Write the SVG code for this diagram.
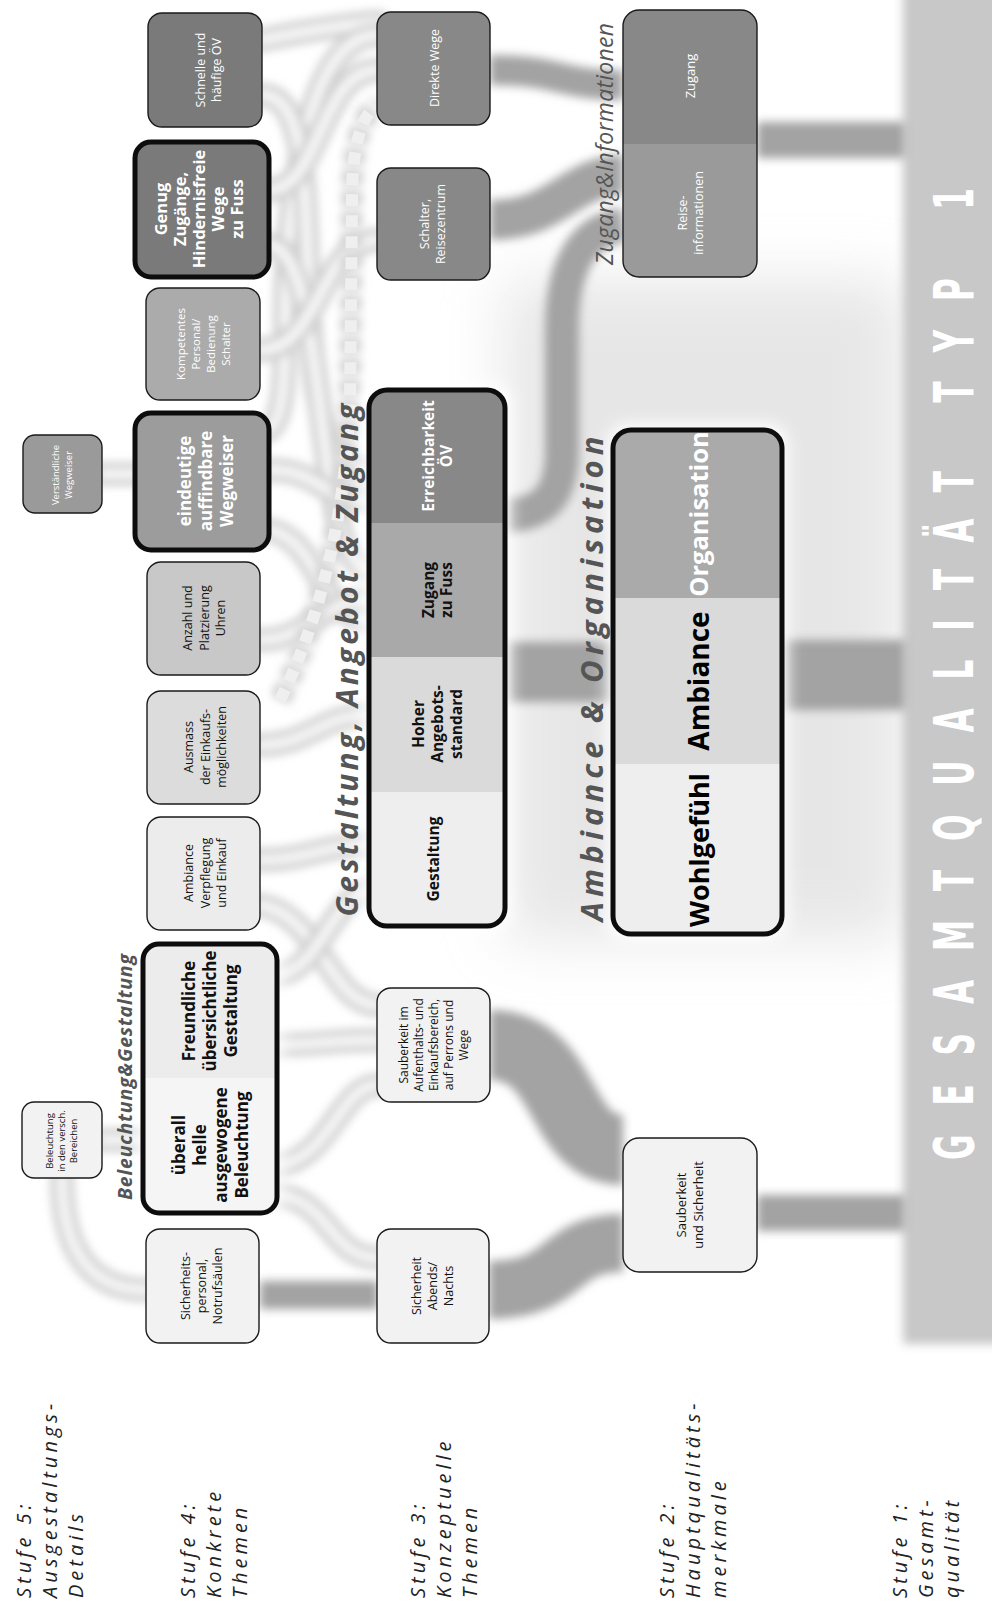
<svg xmlns="http://www.w3.org/2000/svg" width="992" height="1609" viewBox="0 0 992 1609">
<defs>
<style>
text{font-family:"Open Sans","Noto Sans","Liberation Sans",sans-serif;text-anchor:middle}
.node tspan{dominant-baseline:central}
.s12{font-size:12.5px;fill:#111}
.s9{font-size:9.5px;fill:#111}
.w12{font-size:12.5px;fill:#fff}
.w11{font-size:11.5px;fill:#fff}
.w9{font-size:9.5px;fill:#fff}
.b17{font-size:17px;font-weight:bold;fill:#111}
.wb17{font-size:17px;font-weight:bold;fill:#fff}
.b15{font-size:15.5px;font-weight:bold;fill:#111}
.wb15{font-size:15.5px;font-weight:bold;fill:#fff}
.box{stroke:#1a1a1a;stroke-width:1.4}
.thick{fill:none;stroke:#0d0d0d;stroke-width:5}
.lbl{font-style:italic;font-weight:bold;fill:#555}
.stufe{font-style:italic;font-size:20px;fill:#222;letter-spacing:4px;text-anchor:start}
.lto{fill:none;stroke:#d0d0d0;stroke-width:24;stroke-linecap:round}
.lti{fill:none;stroke:#f8f8f8;stroke-width:10;stroke-linecap:round}
.dk{fill:none;stroke:#a3a3a3}
</style>
<filter id="b3" filterUnits="userSpaceOnUse" x="-50" y="-50" width="1100" height="1700"><feGaussianBlur stdDeviation="4"/></filter>
<filter id="b5" filterUnits="userSpaceOnUse" x="-50" y="-50" width="1100" height="1700"><feGaussianBlur stdDeviation="5"/></filter>
<filter id="b8" filterUnits="userSpaceOnUse" x="-50" y="-50" width="1100" height="1700"><feGaussianBlur stdDeviation="8"/></filter>
<filter id="b30" filterUnits="userSpaceOnUse" x="-100" y="-100" width="1200" height="1800"><feGaussianBlur stdDeviation="30"/></filter>
<clipPath id="cBel"><rect x="143" y="944" width="134" height="269" rx="16"/></clipPath>
<clipPath id="cGest"><rect x="369" y="390" width="136" height="536" rx="18"/></clipPath>
<clipPath id="cWohl"><rect x="613" y="430" width="169" height="504" rx="18"/></clipPath>
<clipPath id="cZug"><rect x="623" y="10" width="134" height="267" rx="16"/></clipPath>
</defs>
<rect width="992" height="1609" fill="#fff"/>

<g id="background">
<rect x="505" y="280" width="400" height="660" fill="#cfcfcf" opacity="0.5" filter="url(#b30)"/>
<rect x="903" y="-40" width="130" height="1384" fill="#c8c8c8" filter="url(#b5)"/>
</g>

<g id="connectors">
<g filter="url(#b3)">
<path class="lto" d="M262 40 C310 30 340 25 378 22"/>
<path class="lti" d="M262 40 C310 30 340 25 378 22"/>
<path class="lto" d="M378 35 C310 35 285 190 285 330 C285 400 280 420 269 430"/>
<path class="lti" d="M378 35 C310 35 285 190 285 330 C285 400 280 420 269 430"/>
<path class="lto" d="M262 95 C320 95 300 260 315 380 C325 450 345 470 369 470"/>
<path class="lti" d="M262 95 C320 95 300 260 315 380 C325 450 345 470 369 470"/>
<path class="lto" d="M269 190 C320 190 320 70 378 70"/>
<path class="lti" d="M269 190 C320 190 320 70 378 70"/>
<path class="lto" d="M269 245 C330 250 310 560 369 570"/>
<path class="lti" d="M269 245 C330 250 310 560 369 570"/>
<path class="lto" d="M260 350 C320 350 320 240 378 240"/>
<path class="lti" d="M260 350 C320 350 320 240 378 240"/>
<path class="lto" d="M269 470 C320 470 320 500 369 500"/>
<path class="lti" d="M269 470 C320 470 320 500 369 500"/>
<path class="lto" d="M269 530 C320 540 320 620 369 620"/>
<path class="lti" d="M269 530 C320 540 320 620 369 620"/>
<path class="lto" d="M260 640 C310 640 320 600 369 600"/>
<path class="lti" d="M260 640 C310 640 320 600 369 600"/>
<path class="lto" d="M260 745 C310 745 320 715 369 715"/>
<path class="lti" d="M260 745 C310 745 320 715 369 715"/>
<path class="lto" d="M260 860 C310 860 320 845 369 845"/>
<path class="lti" d="M260 860 C310 860 320 845 369 845"/>
<path class="lto" d="M260 905 C320 915 330 1005 378 1005"/>
<path class="lti" d="M260 905 C320 915 330 1005 378 1005"/>
<path class="lto" d="M277 975 C320 970 330 900 369 890"/>
<path class="lti" d="M277 975 C320 970 330 900 369 890"/>
<path class="lto" d="M277 1045 C320 1045 330 1040 378 1040"/>
<path class="lti" d="M277 1045 C320 1045 330 1040 378 1040"/>
<path class="lto" d="M277 1165 C330 1160 340 1085 378 1085"/>
<path class="lti" d="M277 1165 C330 1160 340 1085 378 1085"/>
<path class="lto" d="M277 1195 C330 1200 330 1258 378 1258"/>
<path class="lti" d="M277 1195 C330 1200 330 1258 378 1258"/>
<path class="lto" d="M103 1140 L144 1140"/>
<path class="lti" d="M103 1140 L144 1140"/>
<path class="lto" d="M62 1178 C62 1250 90 1290 147 1290"/>
<path class="lti" d="M62 1178 C62 1250 90 1290 147 1290"/>
<path class="lto" d="M103 474 L134 474"/>
<path class="lti" d="M103 474 L134 474"/>
</g>
<path d="M280 700 C320 620 345 520 350 400 L352 200 C352 150 360 115 378 105" fill="none" stroke="#d6d6d6" stroke-width="22" stroke-dasharray="16 5" filter="url(#b3)"/>
<path d="M280 700 C320 620 345 520 350 400 L352 200 C352 150 360 115 378 105" fill="none" stroke="#efefef" stroke-width="12" stroke-dasharray="12 9"/>
<g filter="url(#b5)">
<path class="dk" stroke-width="28" d="M260 1295 L378 1295"/>
<path class="dk" stroke-width="70" d="M490 1045 C570 1045 555 1150 623 1150"/>
<path class="dk" stroke-width="58" d="M489 1290 C570 1290 555 1243 623 1243"/>
<path class="dk" stroke-width="60" stroke="#9a9a9a" d="M505 672 L613 672"/>
<path class="dk" stroke-width="70" stroke="#9a9a9a" d="M782 675 L905 675"/>
<path class="dk" stroke-width="36" stroke="#9c9c9c" d="M757 1213 L905 1213"/>
<path class="dk" stroke-width="36" stroke="#9c9c9c" d="M757 140 L905 140"/>
<path class="dk" stroke-width="30" stroke="#aaaaaa" d="M490 70 C560 70 560 85 623 85"/>
<path class="dk" stroke-width="40" stroke="#aaaaaa" d="M490 220 C560 220 570 175 623 175"/>
<path class="dk" stroke-width="34" stroke="#aaaaaa" d="M623 225 C580 230 562 270 562 330 L562 450 C562 500 540 515 505 515"/>
</g>
</g>

<g id="glows" fill="#fff" filter="url(#b8)">
<rect x="138" y="938" width="144" height="281" rx="18"/>
<rect x="363" y="384" width="148" height="548" rx="20"/>
<rect x="607" y="424" width="181" height="516" rx="20"/>
</g>

<g id="n-beleuchtung-bereiche" class="node">
<rect class="box" x="22" y="1102" width="80" height="76" rx="12" fill="#f2f2f2"/>
<text class="s9" transform="translate(61,1141) rotate(-90)"><tspan x="0" y="-12">Beleuchtung</tspan><tspan x="0" y="0">in den versch.</tspan><tspan x="0" y="12">Bereichen</tspan></text>
</g>
<g id="n-verstaendliche-wegweiser" class="node">
<rect class="box" x="23" y="435" width="79" height="78" rx="12" fill="#9a9a9a"/>
<text class="w9" transform="translate(62,475) rotate(-90)"><tspan x="0" y="-7">Verständliche</tspan><tspan x="0" y="6">Wegweiser</tspan></text>
</g>

<g id="n-sicherheitspersonal" class="node">
<rect class="box" x="146" y="1229" width="113" height="114" rx="14" fill="#f2f2f2"/>
<text class="s12" transform="translate(201,1286) rotate(-90)"><tspan x="0" y="-16">Sicherheits-</tspan><tspan x="0" y="0">personal,</tspan><tspan x="0" y="16">Notrufsäulen</tspan></text>
</g>
<g id="n-beleuchtung-gestaltung" class="node">
<g clip-path="url(#cBel)"><rect x="143" y="944" width="134" height="134" fill="#ececec"/><rect x="143" y="1078" width="134" height="135" fill="#f5f5f5"/></g>
<rect class="thick" x="143" y="944" width="134" height="269" rx="16"/>
<text class="b17" transform="translate(209,1011) rotate(-90)"><tspan x="0" y="-21">Freundliche</tspan><tspan x="0" y="0">übersichtliche</tspan><tspan x="0" y="21">Gestaltung</tspan></text>
<text class="b17" transform="translate(209,1145) rotate(-90)"><tspan x="0" y="-31">überall</tspan><tspan x="0" y="-10">helle</tspan><tspan x="0" y="11">ausgewogene</tspan><tspan x="0" y="32">Beleuchtung</tspan></text>
</g>
<g id="n-ambiance-verpflegung" class="node">
<rect class="box" x="147" y="817" width="113" height="113" rx="14" fill="#ececec"/>
<text class="s12" transform="translate(205,873) rotate(-90)"><tspan x="0" y="-17">Ambiance</tspan><tspan x="0" y="0">Verpflegung</tspan><tspan x="0" y="16">und Einkauf</tspan></text>
</g>
<g id="n-ausmass" class="node">
<rect class="box" x="147" y="691" width="113" height="113" rx="14" fill="#dcdcdc"/>
<text class="s12" transform="translate(205,747) rotate(-90)"><tspan x="0" y="-17">Ausmass</tspan><tspan x="0" y="0">der Einkaufs-</tspan><tspan x="0" y="16">möglichkeiten</tspan></text>
</g>
<g id="n-uhren" class="node">
<rect class="box" x="147" y="562" width="113" height="113" rx="14" fill="#c8c8c8"/>
<text class="s12" transform="translate(204,618) rotate(-90)"><tspan x="0" y="-17">Anzahl und</tspan><tspan x="0" y="0">Platzierung</tspan><tspan x="0" y="16">Uhren</tspan></text>
</g>
<g id="n-wegweiser" class="node">
<rect x="135" y="413" width="134" height="137" rx="16" fill="#9c9c9c"/>
<rect class="thick" x="135" y="413" width="134" height="137" rx="16"/>
<text class="wb17" transform="translate(205,481) rotate(-90)"><tspan x="0" y="-21">eindeutige</tspan><tspan x="0" y="0">auffindbare</tspan><tspan x="0" y="21">Wegweiser</tspan></text>
</g>
<g id="n-kompetentes" class="node">
<rect class="box" x="146" y="288" width="114" height="112" rx="14" fill="#ababab"/>
<text class="w11" transform="translate(202,344) rotate(-90)"><tspan x="0" y="-22">Kompetentes</tspan><tspan x="0" y="-7">Personal/</tspan><tspan x="0" y="8">Bedienung</tspan><tspan x="0" y="23">Schalter</tspan></text>
</g>
<g id="n-genug" class="node">
<rect x="135" y="142" width="134" height="135" rx="16" fill="#7a7a7a"/>
<rect class="thick" x="135" y="142" width="134" height="135" rx="16"/>
<text class="wb17" style="font-size:16.5px" transform="translate(198,209) rotate(-90)"><tspan x="0" y="-38">Genug</tspan><tspan x="0" y="-19">Zugänge,</tspan><tspan x="0" y="0">Hindernisfreie</tspan><tspan x="0" y="19">Wege</tspan><tspan x="0" y="38">zu Fuss</tspan></text>
</g>
<g id="n-schnelle" class="node">
<rect class="box" x="148" y="13" width="114" height="114" rx="14" fill="#7a7a7a"/>
<text class="w12" transform="translate(208,70) rotate(-90)"><tspan x="0" y="-8">Schnelle und</tspan><tspan x="0" y="8">häufige ÖV</tspan></text>
</g>

<g id="n-sicherheit-abends" class="node">
<rect class="box" x="377" y="1229" width="112" height="114" rx="14" fill="#f2f2f2"/>
<text class="s12" transform="translate(432,1286) rotate(-90)"><tspan x="0" y="-16">Sicherheit</tspan><tspan x="0" y="0">Abends/</tspan><tspan x="0" y="16">Nachts</tspan></text>
</g>
<g id="n-sauberkeit-bereich" class="node">
<rect class="box" x="377" y="988" width="113" height="114" rx="14" fill="#f2f2f2"/>
<text class="s12" style="font-size:12px" transform="translate(433,1045) rotate(-90)"><tspan x="0" y="-30">Sauberkeit im</tspan><tspan x="0" y="-15">Aufenthalts- und</tspan><tspan x="0" y="0">Einkaufsbereich,</tspan><tspan x="0" y="15">auf Perrons und</tspan><tspan x="0" y="30">Wege</tspan></text>
</g>
<g id="n-gestaltung-angebot-zugang" class="node">
<g clip-path="url(#cGest)">
<rect x="369" y="390" width="136" height="133" fill="#888888"/>
<rect x="369" y="523" width="136" height="134" fill="#a9a9a9"/>
<rect x="369" y="657" width="136" height="135" fill="#dadada"/>
<rect x="369" y="792" width="136" height="134" fill="#eeeeee"/>
</g>
<rect class="thick" x="369" y="390" width="136" height="536" rx="18"/>
<text class="wb15" transform="translate(437,456) rotate(-90)"><tspan x="0" y="-9">Erreichbarkeit</tspan><tspan x="0" y="9">ÖV</tspan></text>
<text class="b15" transform="translate(437,590) rotate(-90)"><tspan x="0" y="-9">Zugang</tspan><tspan x="0" y="9">zu Fuss</tspan></text>
<text class="b15" transform="translate(437,724) rotate(-90)"><tspan x="0" y="-19">Hoher</tspan><tspan x="0" y="0">Angebots-</tspan><tspan x="0" y="19">standard</tspan></text>
<text class="b15" transform="translate(433,859) rotate(-90)"><tspan x="0" y="0">Gestaltung</tspan></text>
</g>
<g id="n-schalter" class="node">
<rect class="box" x="377" y="168" width="113" height="112" rx="14" fill="#888888"/>
<text class="w12" transform="translate(432,224) rotate(-90)"><tspan x="0" y="-8">Schalter,</tspan><tspan x="0" y="8">Reisezentrum</tspan></text>
</g>
<g id="n-direkte-wege" class="node">
<rect class="box" x="377" y="12" width="113" height="113" rx="14" fill="#888888"/>
<text class="w12" transform="translate(434,68) rotate(-90)"><tspan x="0" y="0">Direkte Wege</tspan></text>
</g>

<g id="n-sauberkeit-sicherheit" class="node">
<rect class="box" x="623" y="1138" width="134" height="134" rx="16" fill="#f2f2f2"/>
<text class="s12" style="font-size:13px" transform="translate(689,1205) rotate(-90)"><tspan x="0" y="-8.5">Sauberkeit</tspan><tspan x="0" y="8.5">und Sicherheit</tspan></text>
</g>
<g id="n-ambiance-organisation" class="node">
<g clip-path="url(#cWohl)">
<rect x="613" y="430" width="169" height="168" fill="#aaaaaa"/>
<rect x="613" y="598" width="169" height="166" fill="#dadada"/>
<rect x="613" y="764" width="169" height="170" fill="#eeeeee"/>
</g>
<rect class="thick" x="613" y="430" width="169" height="504" rx="18"/>
<text style="font-size:25.5px;font-weight:bold;fill:#fff" transform="translate(698,514) rotate(-90)"><tspan x="0" y="0">Organisation</tspan></text>
<text style="font-size:28px;font-weight:bold;fill:#000" transform="translate(698,681) rotate(-90)"><tspan x="0" y="0">Ambiance</tspan></text>
<text style="font-size:27px;font-weight:bold;fill:#000" transform="translate(698,850) rotate(-90)"><tspan x="0" y="0">Wohlgefühl</tspan></text>
</g>
<g id="n-zugang-informationen" class="node">
<g clip-path="url(#cZug)">
<rect x="623" y="10" width="134" height="134" fill="#888888"/>
<rect x="623" y="144" width="134" height="133" fill="#9a9a9a"/>
</g>
<rect class="box" fill="none" x="623" y="10" width="134" height="267" rx="16"/>
<text class="w12" style="font-size:13px" transform="translate(690,76) rotate(-90)"><tspan x="0" y="0">Zugang</tspan></text>
<text class="w12" transform="translate(690,213) rotate(-90)"><tspan x="0" y="-8">Reise-</tspan><tspan x="0" y="8">informationen</tspan></text>
</g>

<g id="labels">
<text class="lbl" style="font-size:19.5px" transform="translate(132,1077) rotate(-90)" textLength="246" lengthAdjust="spacing">Beleuchtung&amp;Gestaltung</text>
<text class="lbl" style="font-size:30px" transform="translate(358,660) rotate(-90)" textLength="513" lengthAdjust="spacing">Gestaltung, Angebot &amp; Zugang</text>
<text class="lbl" style="font-size:31px" transform="translate(603,679) rotate(-90)" textLength="485" lengthAdjust="spacing">Ambiance &amp; Organisation</text>
<text style="font-size:23px;font-style:italic;fill:#555" transform="translate(613,144) rotate(-90)" textLength="242" lengthAdjust="spacing">Zugang&amp;Informationen</text>
</g>

<g id="n-gesamtqualitaet">
<text style="font-family:'Liberation Sans Narrow','DejaVu Sans Condensed','DejaVu Sans',sans-serif;font-weight:bold;font-size:56px;fill:#fff" transform="translate(973,674) rotate(-90) scale(0.62,1)" textLength="1568" lengthAdjust="spacing">GESAMTQUALITÄT TYP 1</text>
</g>

<g id="stufen">
<text class="stufe" transform="translate(31,1598) rotate(-90)">Stufe 5:</text>
<text class="stufe" transform="translate(57,1598) rotate(-90)">Ausgestaltungs-</text>
<text class="stufe" transform="translate(83,1598) rotate(-90)">Details</text>
<text class="stufe" transform="translate(195,1598) rotate(-90)">Stufe 4:</text>
<text class="stufe" transform="translate(221,1598) rotate(-90)">Konkrete</text>
<text class="stufe" transform="translate(247,1598) rotate(-90)">Themen</text>
<text class="stufe" transform="translate(425,1598) rotate(-90)">Stufe 3:</text>
<text class="stufe" transform="translate(451,1598) rotate(-90)">Konzeptuelle</text>
<text class="stufe" transform="translate(477,1598) rotate(-90)">Themen</text>
<text class="stufe" transform="translate(674,1598) rotate(-90)">Stufe 2:</text>
<text class="stufe" transform="translate(700,1598) rotate(-90)">Hauptqualitäts-</text>
<text class="stufe" transform="translate(726,1598) rotate(-90)">merkmale</text>
<text class="stufe" transform="translate(907,1598) rotate(-90)">Stufe 1:</text>
<text class="stufe" transform="translate(933,1598) rotate(-90)">Gesamt-</text>
<text class="stufe" transform="translate(959,1598) rotate(-90)">qualität</text>
</g>
</svg>
